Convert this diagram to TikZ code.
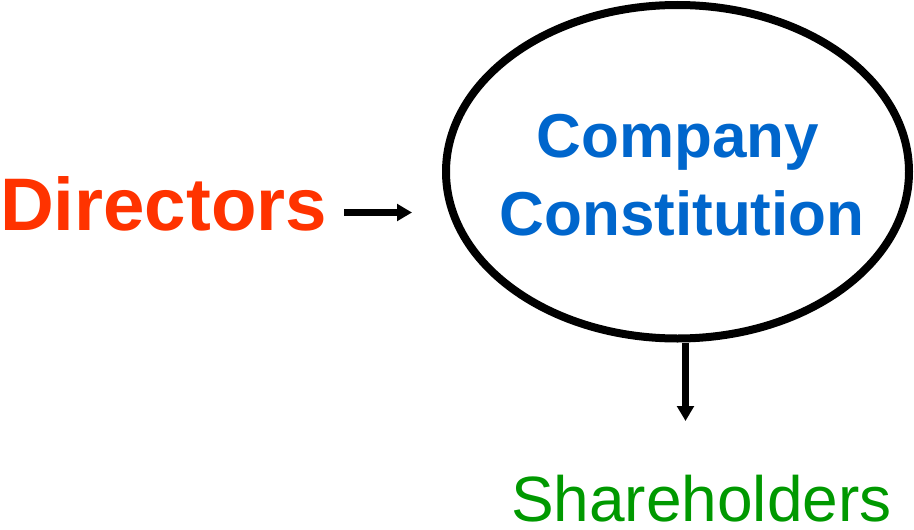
\documentclass[tikz,border=0pt]{standalone}
\usepackage{fontspec}
\setmainfont{Liberation Sans}
\usetikzlibrary{arrows.meta,shapes.geometric,calc}
\definecolor{dirred}{HTML}{FF3300}
\definecolor{compblue}{HTML}{0066CC}
\definecolor{sharegreen}{HTML}{009900}
\tikzset{
  label/.style={inner sep=0pt, outer sep=0pt},
  arr/.style={line width=7.5pt, -{Triangle[length=15pt,width=16.5pt]}},
  oval/.style={ellipse, draw, line width=8pt, inner sep=0pt,
               minimum width=463pt, minimum height=333.5pt}
}
\begin{document}
\begin{tikzpicture}[x=1pt,y=-1pt]
  \useasboundingbox (0,0) rectangle (914,530);

  % the constitution oval and its two-line title
  \node[oval] (comp) at (677.5,171.75) {};
  \node[label, anchor=base, text=compblue, font=\bfseries\fontsize{62}{62}\selectfont]
    (comp1) at (678,157) {Company};
  \node[label, anchor=base, text=compblue, font=\bfseries\fontsize{62}{62}\selectfont]
    (comp2) at (682,235) {Constitution};

  % left and bottom labels
  \node[label, anchor=base west, text=dirred, font=\bfseries\fontsize{74.5}{74.5}\selectfont]
    (dir) at (0,230) {Directors};
  \node[label, anchor=base west, text=sharegreen, font=\fontsize{64}{64}\selectfont]
    (sh) at (511,521) {Shareholders};

  % arrow tips
  \coordinate (dirtip) at (412,212.5);
  \coordinate (shtip) at (685.5,421);

  \draw[arr, shorten <=17pt] (dir.east |- dirtip) -- (dirtip);
  \draw[arr] (comp.south -| shtip) -- (shtip);
\end{tikzpicture}
\end{document}
